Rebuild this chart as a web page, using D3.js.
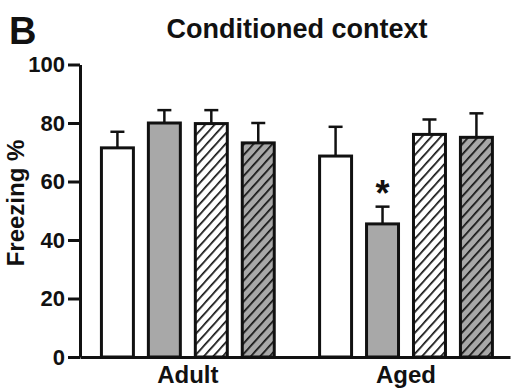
<!DOCTYPE html>
<html>
<head>
<meta charset="utf-8">
<script src="https://cdn.jsdelivr.net/npm/d3@7"></script>
<style>
  body { margin: 0; background: #fff; }
  text { font-family: "Liberation Sans", Arial, sans-serif; font-weight: bold; fill: #111; }
</style>
</head>
<body>
<script>
// data
var groups = ["Adult", "Aged"];
var series = ["s1", "s2", "s3", "s4"];
var means = {
  Adult: [71.5, 80, 79.8, 73.2],
  Aged:  [68.7, 45.5, 76.1, 75.1]
};
var sems = {
  Adult: [5.5, 4.4, 4.6, 6.8],
  Aged:  [10, 5.9, 5.1, 8.2]
};
var yTicks = [0, 20, 40, 60, 80, 100];
var starred = [["Aged", "s2"]];

var fills = { s1: "#fff", s2: "#a8a8a8", s3: "url(#hatchW)", s4: "url(#hatchG)" };

var width = 511, height = 390;

var svg = d3.select("body")
    .append("svg")
    .attr("width", width)
    .attr("height", height);

// hatch patterns
var defs = svg.append("defs");
[["hatchW", "#fff"], ["hatchG", "#a8a8a8"]].forEach(function(p) {
  var pat = defs.append("pattern")
      .attr("id", p[0])
      .attr("patternUnits", "userSpaceOnUse")
      .attr("width", 7)
      .attr("height", 7)
      .attr("patternTransform", "rotate(42)");
  pat.append("rect").attr("width", 7).attr("height", 7).attr("fill", p[1]);
  pat.append("line")
      .attr("x1", 0).attr("y1", 0).attr("x2", 0).attr("y2", 7)
      .attr("stroke", "#111").attr("stroke-width", 3.4);
});

var y = d3.scaleLinear().domain([0, 100]).range([357, 64.5]);

var x0 = d3.scaleBand()
    .domain(groups)
    .range([80, 510])
    .paddingInner(0.139)
    .paddingOuter(0.055)
    .align(0.58);

var x1 = d3.scaleBand()
    .domain(series)
    .range([0, x0.bandwidth()])
    .paddingInner(0.255)
    .paddingOuter(0.128);

var rows = [];
groups.forEach(function(g) {
  series.forEach(function(s, i) {
    rows.push({ g: g, s: s, v: means[g][i], e: sems[g][i] });
  });
});

var bars = svg.selectAll(".bar")
    .data(rows)
    .enter()
    .append("g")
    .attr("class", "bar")
    .attr("transform", function(d) { return "translate(" + (x0(d.g) + x1(d.s)) + ",0)"; });

var bw = x1.bandwidth();

// error bars (upper only)
bars.append("line")
    .attr("x1", bw / 2).attr("x2", bw / 2)
    .attr("y1", function(d) { return y(d.v); })
    .attr("y2", function(d) { return y(d.v + d.e); })
    .attr("stroke", "#111").attr("stroke-width", 2.5);
bars.append("line")
    .attr("x1", bw / 2 - 7).attr("x2", bw / 2 + 7)
    .attr("y1", function(d) { return y(d.v + d.e); })
    .attr("y2", function(d) { return y(d.v + d.e); })
    .attr("stroke", "#111").attr("stroke-width", 2.5);

bars.append("rect")
    .attr("x", 1.5)
    .attr("width", bw - 3)
    .attr("y", function(d) { return y(d.v); })
    .attr("height", function(d) { return y(0) - y(d.v); })
    .attr("fill", function(d) { return fills[d.s]; })
    .attr("stroke", "#111")
    .attr("stroke-width", 3);

// significance stars
starred.forEach(function(st) {
  var d = rows.filter(function(r) { return r.g === st[0] && r.s === st[1]; })[0];
  svg.append("text")
      .attr("x", x0(d.g) + x1(d.s) + bw / 2)
      .attr("y", y(d.v + d.e) - 1)
      .attr("text-anchor", "middle")
      .attr("font-size", "36px")
      .text("*");
});

// y axis
var yAxis = svg.append("g")
    .attr("transform", "translate(80,0)")
    .call(d3.axisLeft(y).tickValues(yTicks).tickSize(12).tickSizeOuter(0).tickPadding(3));
yAxis.select(".domain").attr("stroke", "#111").attr("stroke-width", 3);
yAxis.selectAll(".tick line").attr("stroke", "#111").attr("stroke-width", 3);
yAxis.selectAll(".tick text")
    .attr("font-size", "22px")
    .attr("font-family", "Liberation Sans, Arial, sans-serif")
    .attr("font-weight", "bold")
    .attr("fill", "#111");

// x axis
var xAxis = svg.append("g")
    .attr("transform", "translate(0," + y(0) + ")")
    .call(d3.axisBottom(x0).tickSize(0).tickSizeOuter(0).tickPadding(9));
xAxis.select(".domain").attr("stroke", "#111").attr("stroke-width", 3);
xAxis.selectAll(".tick text")
    .attr("font-size", "24px")
    .attr("font-family", "Liberation Sans, Arial, sans-serif")
    .attr("font-weight", "bold")
    .attr("fill", "#111");

// labels
svg.append("text")
    .attr("transform", "translate(24,203) rotate(-90)")
    .attr("text-anchor", "middle")
    .attr("font-size", "24px")
    .text("Freezing %");

svg.append("text")
    .attr("x", 297)
    .attr("y", 38)
    .attr("text-anchor", "middle")
    .attr("font-size", "27px")
    .text("Conditioned context");

svg.append("text")
    .attr("x", 9)
    .attr("y", 44)
    .attr("font-size", "38px")
    .text("B");
</script>
</body>
</html>
